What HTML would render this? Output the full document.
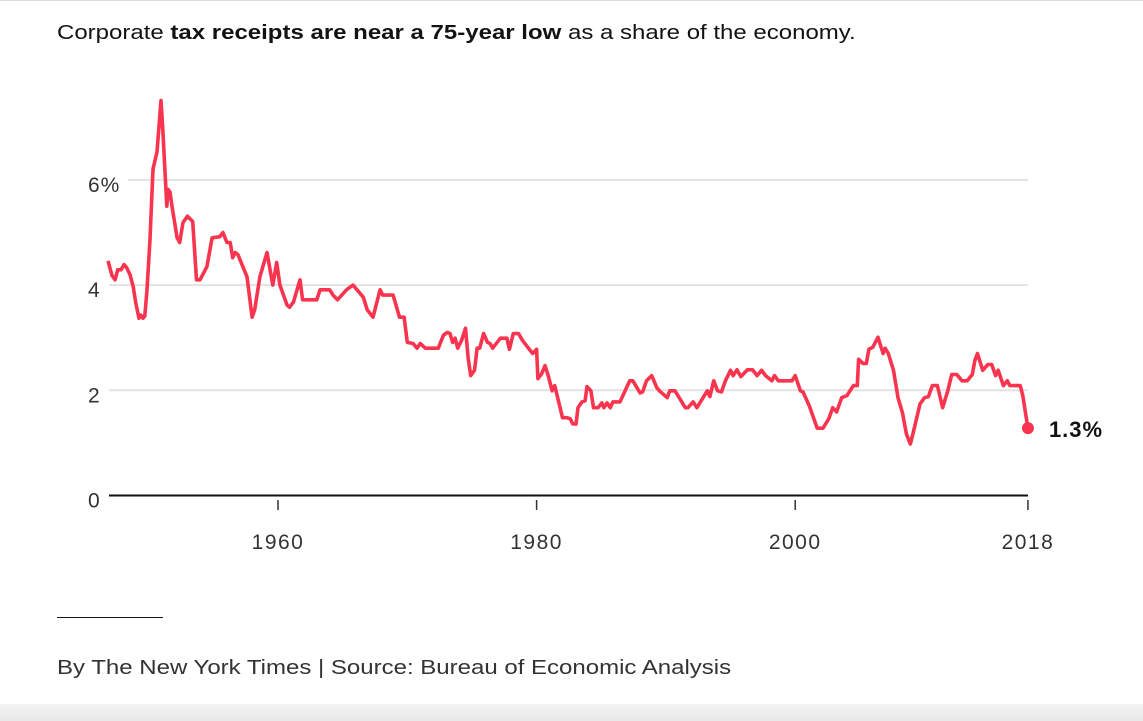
<!DOCTYPE html>
<html><head><meta charset="utf-8">
<style>
body{margin:0;width:1143px;height:721px;background:#fff;overflow:hidden;font-family:"Liberation Sans",Arial,sans-serif;position:relative}
#title{position:absolute;left:57px;top:22px;font-size:20px;color:#121212;white-space:nowrap;transform:scaleX(1.2);transform-origin:0 0}
#foot{position:absolute;left:57px;top:657px;font-size:20px;color:#333;white-space:nowrap;transform:scaleX(1.2);transform-origin:0 0}
#rule{position:absolute;left:57px;top:617px;width:106px;height:1px;background:#121212}
#band{position:absolute;left:0;top:704px;width:1143px;height:17px;background:linear-gradient(#f4f4f4,#e8e8e8)}
#topline{position:absolute;left:0;top:0;width:1143px;height:1px;background:#ddd}
svg{position:absolute;left:0;top:0}
</style></head><body>
<div id="topline"></div>
<div id="title">Corporate <b>tax receipts are near a 75-year low</b> as a share of the economy.</div>
<svg id="chart" width="1143" height="721"></svg>
<div id="rule"></div>
<div id="foot">By The New York Times | Source: Bureau of Economic Analysis</div>
<div id="band"></div>
<script>
const years=[1946.85,1947.16,1947.4,1947.6,1947.86,1948.1,1948.3,1948.55,1948.8,1949.0,1949.25,1949.4,1949.56,1949.7,1949.87,1950.1,1950.33,1950.64,1950.95,1951.1,1951.4,1951.5,1951.65,1951.8,1952.2,1952.4,1952.65,1953.0,1953.4,1953.7,1953.97,1954.5,1954.9,1955.5,1955.75,1956.05,1956.3,1956.5,1956.7,1956.9,1957.6,1958.0,1958.2,1958.6,1959.15,1959.6,1959.9,1960.15,1960.7,1960.9,1961.2,1961.7,1961.9,1963.0,1963.25,1964.0,1964.25,1964.6,1965.3,1965.8,1966.6,1966.9,1967.35,1967.9,1968.1,1968.9,1969.4,1969.75,1970.0,1970.45,1970.75,1971.0,1971.4,1972.4,1972.8,1973.1,1973.3,1973.5,1973.7,1973.9,1974.2,1974.5,1974.7,1974.9,1975.2,1975.4,1975.6,1975.9,1976.2,1976.4,1976.6,1977.2,1977.7,1977.9,1978.2,1978.6,1978.9,1979.5,1979.7,1980.0,1980.1,1980.4,1980.65,1980.9,1981.2,1981.4,1982.0,1982.35,1982.6,1982.8,1983.05,1983.2,1983.5,1983.75,1983.9,1984.2,1984.4,1984.75,1985.05,1985.2,1985.45,1985.7,1985.9,1986.45,1987.2,1987.45,1988.0,1988.2,1988.5,1988.9,1989.3,1989.5,1990.1,1990.3,1990.7,1991.5,1991.7,1992.1,1992.4,1993.2,1993.4,1993.7,1994.0,1994.3,1994.6,1995.0,1995.2,1995.5,1995.8,1996.3,1996.7,1997.05,1997.4,1997.7,1998.2,1998.4,1998.7,1999.75,2000.0,2000.4,2000.6,2001.1,2001.7,2002.15,2002.6,2002.9,2003.2,2003.6,2004.0,2004.5,2004.8,2004.9,2005.25,2005.5,2005.7,2006.0,2006.4,2006.8,2006.95,2007.2,2007.6,2007.95,2008.3,2008.6,2008.9,2009.1,2009.65,2010.0,2010.3,2010.6,2011.0,2011.4,2011.8,2012.1,2012.5,2012.9,2013.3,2013.7,2013.9,2014.1,2014.5,2014.9,2015.2,2015.5,2015.7,2016.1,2016.4,2016.6,2017.4,2017.6,2018.0];
const values=[4.46,4.18,4.10,4.29,4.29,4.39,4.33,4.20,3.97,3.66,3.37,3.43,3.37,3.41,3.91,4.87,6.21,6.53,7.51,6.92,5.50,5.82,5.77,5.50,4.90,4.81,5.19,5.31,5.21,4.10,4.10,4.35,4.90,4.92,5.00,4.81,4.81,4.52,4.62,4.58,4.16,3.39,3.53,4.16,4.62,4.00,4.43,4.00,3.62,3.58,3.68,4.10,3.72,3.72,3.91,3.91,3.81,3.72,3.91,4.00,3.77,3.53,3.39,3.91,3.81,3.81,3.39,3.39,2.91,2.89,2.80,2.89,2.80,2.80,3.05,3.10,3.08,2.91,2.99,2.80,2.95,3.18,2.62,2.28,2.38,2.80,2.80,3.08,2.91,2.89,2.80,2.99,2.99,2.78,3.08,3.08,2.95,2.76,2.70,2.78,2.22,2.32,2.47,2.28,1.99,2.09,1.48,1.48,1.46,1.36,1.36,1.67,1.78,1.80,2.07,1.99,1.67,1.67,1.76,1.67,1.76,1.67,1.78,1.78,2.18,2.18,1.95,1.97,2.18,2.28,2.05,1.99,1.86,1.99,1.99,1.67,1.67,1.78,1.67,1.99,1.88,2.18,1.99,1.97,2.18,2.38,2.28,2.39,2.26,2.39,2.39,2.28,2.38,2.28,2.18,2.28,2.18,2.18,2.28,1.99,1.97,1.70,1.28,1.28,1.46,1.67,1.59,1.86,1.90,2.09,2.09,2.59,2.51,2.51,2.78,2.82,3.01,2.70,2.80,2.70,2.38,1.86,1.57,1.17,0.98,1.17,1.74,1.86,1.88,2.09,2.09,1.67,1.99,2.30,2.30,2.18,2.18,2.30,2.57,2.70,2.38,2.49,2.49,2.28,2.38,2.09,2.18,2.09,2.09,1.90,1.28];
const yTicks=[0,2,4,6];
const yTickLabels=["0","2","4","6%"];
const xTicks=[1960,1980,2000,2018];
const xTickLabels=["1960","1980","2000","2018"];
const endLabel="1.3%";

const NS="http://www.w3.org/2000/svg";
const svg=document.getElementById('chart');
const X=y=>278+(y-1960)*12.93;
const Y=v=>495.5-v*52.6;
function mk(t,a){const e=document.createElementNS(NS,t);for(const k in a)e.setAttribute(k,a[k]);svg.appendChild(e);return e;}
yTicks.forEach((t,i)=>{
  if(t!==0){
    const g=mk('line',{x1:t===6?128:109,x2:1028,y1:Y(t),y2:Y(t),stroke:'#e2e2e2','stroke-width':2});
    
    
  }
  const l=mk('text',{x:88,y:Y(t)+12,'font-size':21,'letter-spacing':1,fill:'#333','font-family':'Liberation Sans, sans-serif'});
  l.textContent=yTickLabels[i];
  
  
});
const ax=mk('line',{x1:109,x2:1028,y1:Y(0),y2:Y(0),stroke:'#121212','stroke-width':2});


xTicks.forEach((t,i)=>{
  const k=mk('line',{x1:X(t),x2:X(t),y1:500,y2:510,stroke:'#333','stroke-width':1.5});
  
  
  const l=mk('text',{x:X(t),y:549,'font-size':21,'letter-spacing':1.5,fill:'#333','text-anchor':'middle','font-family':'Liberation Sans, sans-serif'});
  l.textContent=xTickLabels[i];
  
  
});
const d=years.map((y,i)=>(i?'L':'M')+X(y).toFixed(1)+','+Y(values[i]).toFixed(1)).join('');
const p=mk('path',{d:d,fill:'none',stroke:'#f9344e','stroke-width':3.6,'stroke-linejoin':'round'});


const n=years.length-1;
const c=mk('circle',{cx:X(years[n]),cy:Y(values[n]),r:6,fill:'#f9344e'});


const el=mk('text',{x:X(years[n])+21,y:Y(values[n])+9,'font-size':22,'letter-spacing':1,'font-weight':'bold',fill:'#121212','font-family':'Liberation Sans, sans-serif'});
el.textContent=endLabel;


</script>
</body></html>
